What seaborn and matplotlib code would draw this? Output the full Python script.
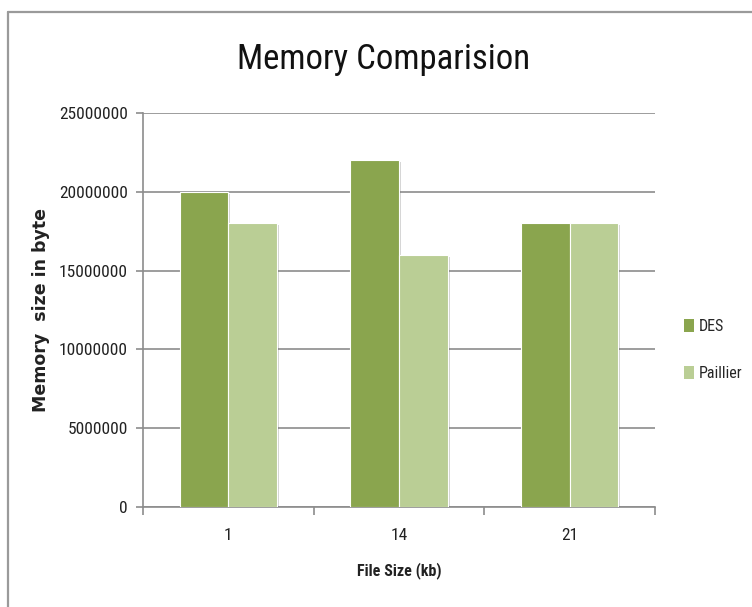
import matplotlib
matplotlib.use("Agg")
import matplotlib.pyplot as plt
import matplotlib.patheffects as pe
from matplotlib.patches import Rectangle
from matplotlib.lines import Line2D
import seaborn as sns
import pandas as pd

# Data
file_sizes = ["1", "14", "21"]
des_memory = [20000000, 22000000, 18000000]
paillier_memory = [18000000, 16000000, 18000000]
series_names = ["DES", "Paillier"]
series_colors = ["#8AA54E", "#BACE95"]
y_ticks = [0, 5000000, 10000000, 15000000, 20000000, 25000000]

df = pd.DataFrame({
    "File Size": file_sizes * 2,
    "Memory": des_memory + paillier_memory,
    "Algorithm": [series_names[0]] * 3 + [series_names[1]] * 3,
})

sns.set_theme(style="white")
font = ["Roboto Condensed", "Roboto", "DejaVu Sans"]
plt.rcParams["font.family"] = font

fig = plt.figure(figsize=(7.52, 6.07), dpi=100)
ax = fig.add_axes([143 / 752, 100 / 607, 512 / 752, 394 / 607])

sns.barplot(data=df, x="File Size", y="Memory", hue="Algorithm",
            order=file_sizes, hue_order=series_names,
            palette=series_colors, width=0.57, saturation=1,
            edgecolor="white", linewidth=0.8, ax=ax, legend=False, zorder=3)

for p in ax.patches:
    p.set_path_effects([pe.SimplePatchShadow(offset=(1.5, -1.5), alpha=0.25,
                                             shadow_rgbFace="#555555"),
                        pe.Normal()])

ax.set_ylim(0, 25000000)
ax.set_yticks(y_ticks)
ax.set_yticklabels([str(v) for v in y_ticks], fontsize=12.5, color="#222222")
ax.yaxis.grid(True, color="#8c8c8c", linewidth=1.2, zorder=0)
ax.set_axisbelow(True)
ax.set_xlim(-0.5, 2.5)

for side in ["top", "right"]:
    ax.spines[side].set_visible(False)
for side in ["left", "bottom"]:
    ax.spines[side].set_color("#8c8c8c")
    ax.spines[side].set_linewidth(1.2)

ax.tick_params(axis="y", which="major", left=True, length=5, width=1.2,
               color="#8c8c8c", pad=6)
ax.set_xticks([-0.5, 0.5, 1.5, 2.5], minor=True)
ax.tick_params(axis="x", which="major", bottom=False, pad=9)
ax.tick_params(axis="x", which="minor", bottom=True, length=6, width=1.2,
               color="#8c8c8c")
ax.set_xticklabels(file_sizes, fontsize=12.5, color="#222222")

ax.set_xlabel("File Size (kb)", fontsize=11.5, fontweight="bold",
              color="#222222", labelpad=14)
ax.set_ylabel("Memory  size in byte", fontsize=12.5, fontweight="bold",
              family="DejaVu Sans", color="#222222", labelpad=6)

fig.text(384 / 752, 1 - 60 / 607, "Memory Comparision", fontsize=25,
         ha="center", va="center", color="#111111")

handles = [Rectangle((0, 0), 1, 1, facecolor=c, edgecolor="none") for c in series_colors]
leg = fig.legend(handles, series_names, loc="center left",
                 bbox_to_anchor=(684 / 752, 1 - 350 / 607), frameon=False,
                 borderpad=0, borderaxespad=0,
                 fontsize=11.5, handlelength=0.6, handleheight=0.9,
                 handletextpad=0.3, labelspacing=2.0)

# Chart area frame (left and top edges visible)
fig.add_artist(Line2D([8 / 752, 8 / 752], [0, 1 - 12 / 607], transform=fig.transFigure,
                      color="#9a9a9a", linewidth=1.6))
fig.add_artist(Line2D([8 / 752, 1], [1 - 12 / 607, 1 - 12 / 607], transform=fig.transFigure,
                      color="#9a9a9a", linewidth=1.6))

fig.savefig("out.png", dpi=100, facecolor="white")
